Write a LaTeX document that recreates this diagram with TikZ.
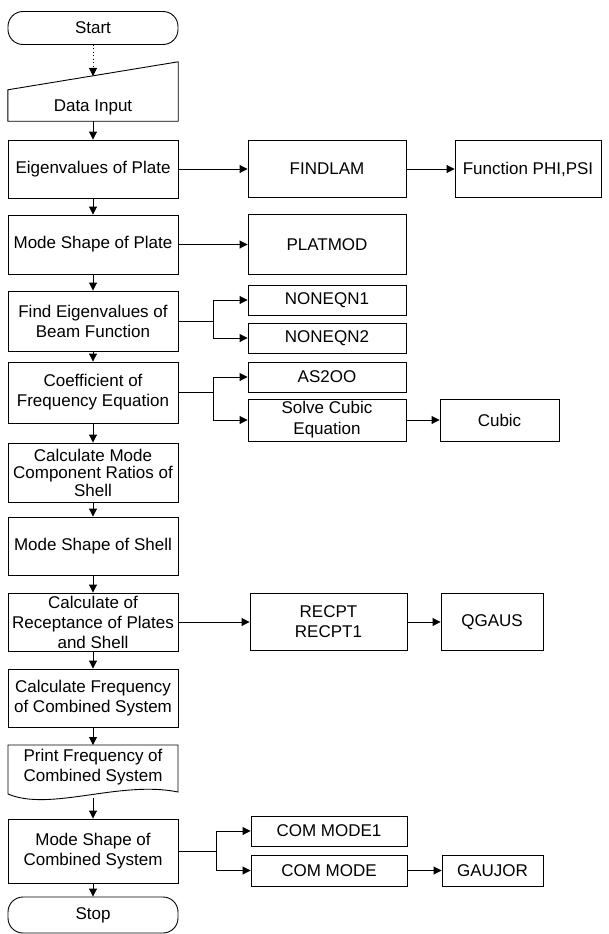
\documentclass[tikz,border=0pt]{standalone}
\usepackage{fontspec}
\setmainfont{Liberation Sans}
\usetikzlibrary{arrows.meta,calc}
\begin{document}
\begin{tikzpicture}[x=1pt,y=-1pt,
  every node/.style={font=\fontsize{17}{20}\selectfont, inner sep=0pt, align=center},
  box/.style={draw, rectangle, line width=0.9pt},
  mainbox/.style={box, minimum width=170pt},
  term/.style={draw, line width=0.9pt, rounded corners=15pt, minimum width=170pt, minimum height=33pt},
  flow/.style={line width=0.9pt, -{Triangle[length=8pt,width=8pt]}},
  link/.style={line width=0.9pt}
]
\useasboundingbox (0,0) rectangle (609,934);

% main column
\node[term] (start) at (93,28) {Start};

\node[minimum width=170pt, minimum height=59pt] (din) at (93,91.5) {};
\draw[link] (din.south west) -- (din.south east) -- (din.north east) -- ($(din.north west)+(0,28)$) -- cycle;
\node (dinlabel) at (93,107) {Data Input};
\coordinate (dintop) at (93,76);

\node[mainbox, minimum height=58pt] (eig) at (93,169) {Eigenvalues of Plate};
\node[mainbox, minimum height=59pt] (msp) at (93,244.5) {Mode Shape of Plate};
\node[mainbox, minimum height=60pt] (feb) at (93,321) {Find Eigenvalues of\\Beam Function};
\node[mainbox, minimum height=61pt] (coef) at (93,392.5) {Coefficient of\\Frequency Equation};
\node[mainbox, minimum height=59pt, font=\fontsize{17}{17.5}\selectfont] (cmcr) at (93,472.5) {Calculate Mode\\Component Ratios of\\Shell};
\node[mainbox, minimum height=58pt] (mss) at (93,546) {Mode Shape of Shell};
\node[mainbox, minimum height=58pt] (recep) at (93,622) {Calculate of\\Receptance of Plates\\and Shell};
\node[mainbox, minimum height=58pt] (cfcs) at (93,698) {Calculate Frequency\\of Combined System};

\node (print) at (93,767) {Print Frequency of\\Combined System};
\draw[link] (8,745) -- (178,745) -- (178,792) .. controls (120,780) and (50,812) .. (8,794) -- cycle;
\coordinate (printtop) at (93,745);
\coordinate (printbot) at (93,798);

\node[mainbox, minimum height=64pt] (mscs) at (93,851) {Mode Shape of\\Combined System};
\node[term, minimum height=36pt] (stop) at (93,915) {Stop};

% side boxes
\node[box, minimum width=158pt, minimum height=57pt] (findlam) at (327,169) {FINDLAM};
\node[box, minimum width=146pt, minimum height=57pt] (phi) at (528,169) {Function PHI,PSI};
\node[box, minimum width=158pt, minimum height=60pt] (platmod) at (327,244.5) {PLATMOD};
\node[box, minimum width=158pt, minimum height=30pt] (non1) at (327,300) {NONEQN1};
\node[box, minimum width=158pt, minimum height=30pt] (non2) at (327,338) {NONEQN2};
\node[box, minimum width=158pt, minimum height=30pt] (as2oo) at (327,377) {AS2OO};
\node[box, minimum width=158pt, minimum height=42pt, font=\fontsize{17}{21}\selectfont] (solve) at (327,420) {Solve Cubic\\Equation};
\node[box, minimum width=119pt, minimum height=42pt] (cubic) at (499.5,420) {Cubic};
\node[box, minimum width=157pt, minimum height=57pt] (recpt) at (328.5,622) {RECPT\\RECPT1};
\node[box, minimum width=102pt, minimum height=57pt] (qgaus) at (492,622) {QGAUS};
\node[box, minimum width=156pt, minimum height=30pt] (cm1) at (329,831) {COM MODE1};
\node[box, minimum width=156pt, minimum height=31pt] (cm) at (329,870.5) {COM MODE};
\node[box, minimum width=101pt, minimum height=31pt] (gaujor) at (492.5,870.5) {GAUJOR};

% main flow
\draw[flow, dash pattern=on 1pt off 2.5pt] (start.south) -- (dintop);
\draw[flow] (din.south) -- (eig.north);
\draw[flow] (eig.south) -- (msp.north);
\draw[flow] (msp.south) -- (feb.north);
\draw[flow] (feb.south) -- (coef.north);
\draw[flow] (coef.south) -- (cmcr.north);
\draw[flow] (cmcr.south) -- (mss.north);
\draw[flow] (mss.south) -- (recep.north);
\draw[flow] (recep.south) -- (cfcs.north);
\draw[flow] (cfcs.south) -- (printtop);
\draw[flow] (printbot) -- (mscs.north);
\draw[flow] (mscs.south) -- (stop.north);

% side flows
\draw[flow] (eig.east) -- (findlam.west);
\draw[flow] (findlam.east) -- (phi.west);
\draw[flow] (msp.east) -- (platmod.west);
\draw[flow] (feb.east) -- ++(35,0) |- (non1.west);
\draw[flow] (feb.east) -- ++(35,0) |- (non2.west);
\draw[flow] (coef.east) -- ++(35,0) |- (as2oo.west);
\draw[flow] (coef.east) -- ++(35,0) |- (solve.west);
\draw[flow] (solve.east) -- (cubic.west);
\draw[flow] (recep.east) -- (recpt.west);
\draw[flow] (recpt.east) -- (qgaus.west);
\draw[flow] (mscs.east) -- ++(38,0) |- (cm1.west);
\draw[flow] (mscs.east) -- ++(38,0) |- (cm.west);
\draw[flow] (cm.east) -- (gaujor.west);
\end{tikzpicture}
\end{document}
